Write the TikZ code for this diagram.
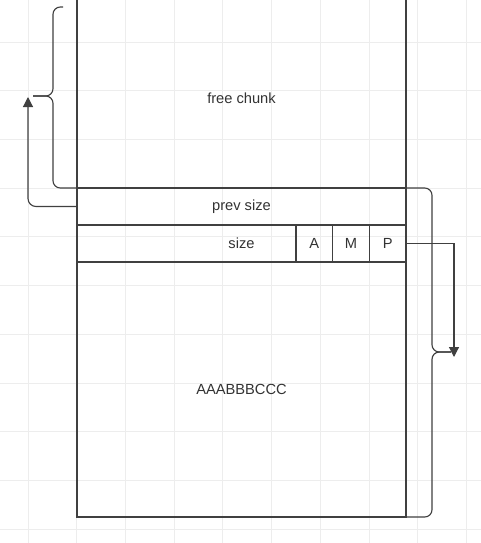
\documentclass[tikz,border=0pt]{standalone}
\usepackage{fontspec}
\setmainfont{Liberation Sans}
\usetikzlibrary{arrows.meta, positioning}

\begin{document}
\begin{tikzpicture}[
    x=0.75pt, y=-0.75pt,
    line/.style={draw=black!75, line width=0.85pt},
    rowbox/.style={rectangle, line, inner sep=0pt, outer sep=0pt, minimum width=246.75pt, minimum height=27.75pt, text=black!80, font=\fontsize{11}{13}\selectfont},
    flagbox/.style={rowbox, minimum width=27.5pt},
    brace/.style={line, rounded corners=5.5pt},
    arrow/.style={line, -{Triangle[width=7.5pt,length=7.5pt]}},
    gridline/.style={draw=black!7, line width=0.6pt}
  ]

    \clip (0,0) rectangle (481,543);
    \fill[white] (0,0) rectangle (481,543);

    % background grid
    \foreach \gx in {0,...,9} \draw[gridline] (28+48.7*\gx,0) -- (28+48.7*\gx,543);
    \foreach \gy in {0,...,10} \draw[gridline] (0,42+48.7*\gy) -- (481,42+48.7*\gy);

    % chunk header rows
    \node[rowbox, anchor=north west] (prev) at (77,188) {prev size};
    \node[rowbox, below=0pt of prev] (size) {size};
    \node[flagbox, anchor=north east] (P) at (size.north east) {P};
    \node[flagbox, left=0pt of P] (M) {M};
    \node[flagbox, left=0pt of M] (A) {A};

    % user data
    \node[rowbox, below=0pt of size, minimum height=191.25pt] (data) {AAABBBCCC};

    % free chunk above (open at top)
    \node[text=black!80, font=\fontsize{11}{13}\selectfont] (free) at (241.5,98) {free chunk};
    \draw[line] (prev.north west) -- (prev.north west |- 0,-5);
    \draw[line] (prev.north east) -- (prev.north east |- 0,-5);

    % brace points
    \coordinate (ltip) at (33,96);
    \coordinate (ltarget) at (28,97);
    \coordinate (rtip) at (451,352);
    \coordinate (rtarget) at (454,357);

    % left brace over free chunk
    \draw[brace] (63,7) -- (53,7) -- (53,96) -- (ltip);
    \draw[brace] (ltip) -- (53,96) -- (53,188) -- (prev.north west);

    % right brace over the chunk
    \draw[brace] (prev.north east) -- (432,188) -- (432,352) -- (rtip);
    \draw[brace] (rtip) -- (432,352) -- (432,517) -- (data.south east);

    % pointers
    \draw[arrow, rounded corners=6pt] (prev.west) -| (ltarget);
    \draw[arrow] (P.east) -| (rtarget);

\end{tikzpicture}
\end{document}
